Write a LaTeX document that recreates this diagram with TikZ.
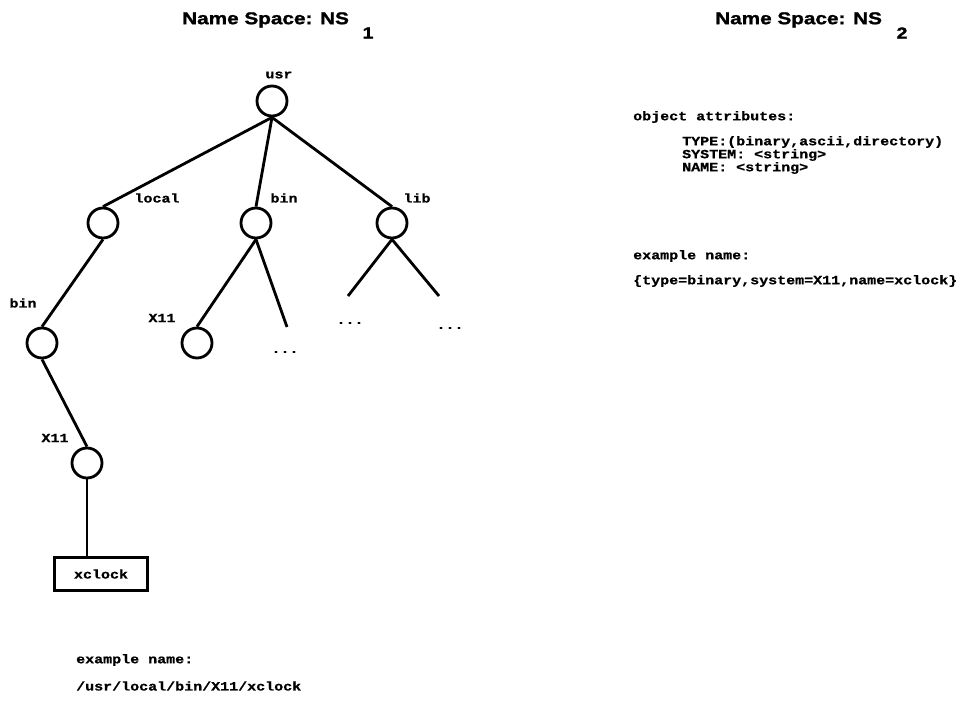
\documentclass[tikz,border=0pt]{standalone}
\usepackage{fontspec}
\newfontfamily\titlefont{Liberation Sans Bold}[FakeStretch=1.22,FakeBold=1.5]
\newfontfamily\monob{Liberation Mono Bold}[FakeStretch=1.2,FakeBold=0.8]
\begin{document}
\begin{tikzpicture}[x=1pt,y=-1pt,
  treenode/.style={circle,draw,line width=2.8pt,minimum size=30pt,inner sep=0pt},
  edge/.style={line width=2.8pt},
  lbl/.style={font=\monob\fontsize{12.5}{12}\selectfont,inner sep=0pt},
  txt/.style={font=\monob\fontsize{12.5}{12}\selectfont,inner sep=0pt,anchor=west},
  ttl/.style={font=\titlefont\fontsize{17}{20}\selectfont,inner sep=0pt,anchor=west},
  sub/.style={font=\titlefont\fontsize{16}{20}\selectfont,inner sep=0pt}]
\useasboundingbox (0,0) rectangle (972,701);
% titles
\node[ttl] (t1) at (182,20) {Name Space: NS};
\node[sub] (t1s) at (368,33) {1};
\node[ttl] (t2) at (715,20) {Name Space: NS};
\node[sub] (t2s) at (902,33) {2};
% tree nodes
\node[treenode] (usr) at (272,101) {};
\node[treenode] (local) at (103,223) {};
\node[treenode] (bin) at (256,223) {};
\node[treenode] (lib) at (392,223) {};
\node[treenode] (bin2) at (42,343) {};
\node[treenode] (x11a) at (87,463) {};
\node[treenode] (x11b) at (197,343) {};
\node[draw,line width=2.6pt,minimum width=93pt,minimum height=33pt,inner sep=0pt,
      font=\monob\fontsize{12.5}{12}\selectfont] (xclock) at (101,574) {xclock};
\coordinate (bd) at (287,327);
\coordinate (l1) at (348,296);
\coordinate (l2) at (439,296);
% edges
\draw[edge] (usr.south) -- (local.north);
\draw[edge] (usr.south) -- (bin.north);
\draw[edge] (usr.south) -- (lib.north);
\draw[edge] (local.south) -- (bin2.north);
\draw[edge] (bin2.south) -- (x11a.north);
\draw[edge] (x11a.south) -- (x11a.south |- xclock.north);
\draw[edge] (bin.south) -- (x11b.north);
\draw[edge] (bin.south) -- (bd);
\draw[edge] (lib.south) -- (l1);
\draw[edge] (lib.south) -- (l2);
% labels
\node[lbl] (lusr) at (279,75) {usr};
\node[lbl] (llocal) at (157,198) {local};
\node[lbl] (lbin) at (284,198) {bin};
\node[lbl] (llib) at (417,198) {lib};
\node[lbl] (lbin2) at (23,303) {bin};
\node[lbl] (lx11b) at (162,318) {X11};
\node[lbl] (lx11a) at (55,438) {X11};
\node[lbl] (d1) at (285,352) {...};
\node[lbl] (d2) at (350,323) {...};
\node[lbl] (d3) at (450,328) {...};
% bottom text
\node[txt] (ex1) at (76,660) {example name:};
\node[txt] (ex1n) at (76,686) {/usr/local/bin/X11/xclock};
% right text
\node[txt] (oa) at (633,117) {object attributes:};
\node[txt] (a1) at (682,142) {TYPE:(binary,ascii,directory)};
\node[txt] (a2) at (682,155) {SYSTEM: <string>};
\node[txt] (a3) at (682,168) {NAME: <string>};
\node[txt] (ex2) at (633,256) {example name:};
\node[txt] (ex2n) at (633,281) {\{type=binary,system=X11,name=xclock\}};
\end{tikzpicture}
\end{document}
